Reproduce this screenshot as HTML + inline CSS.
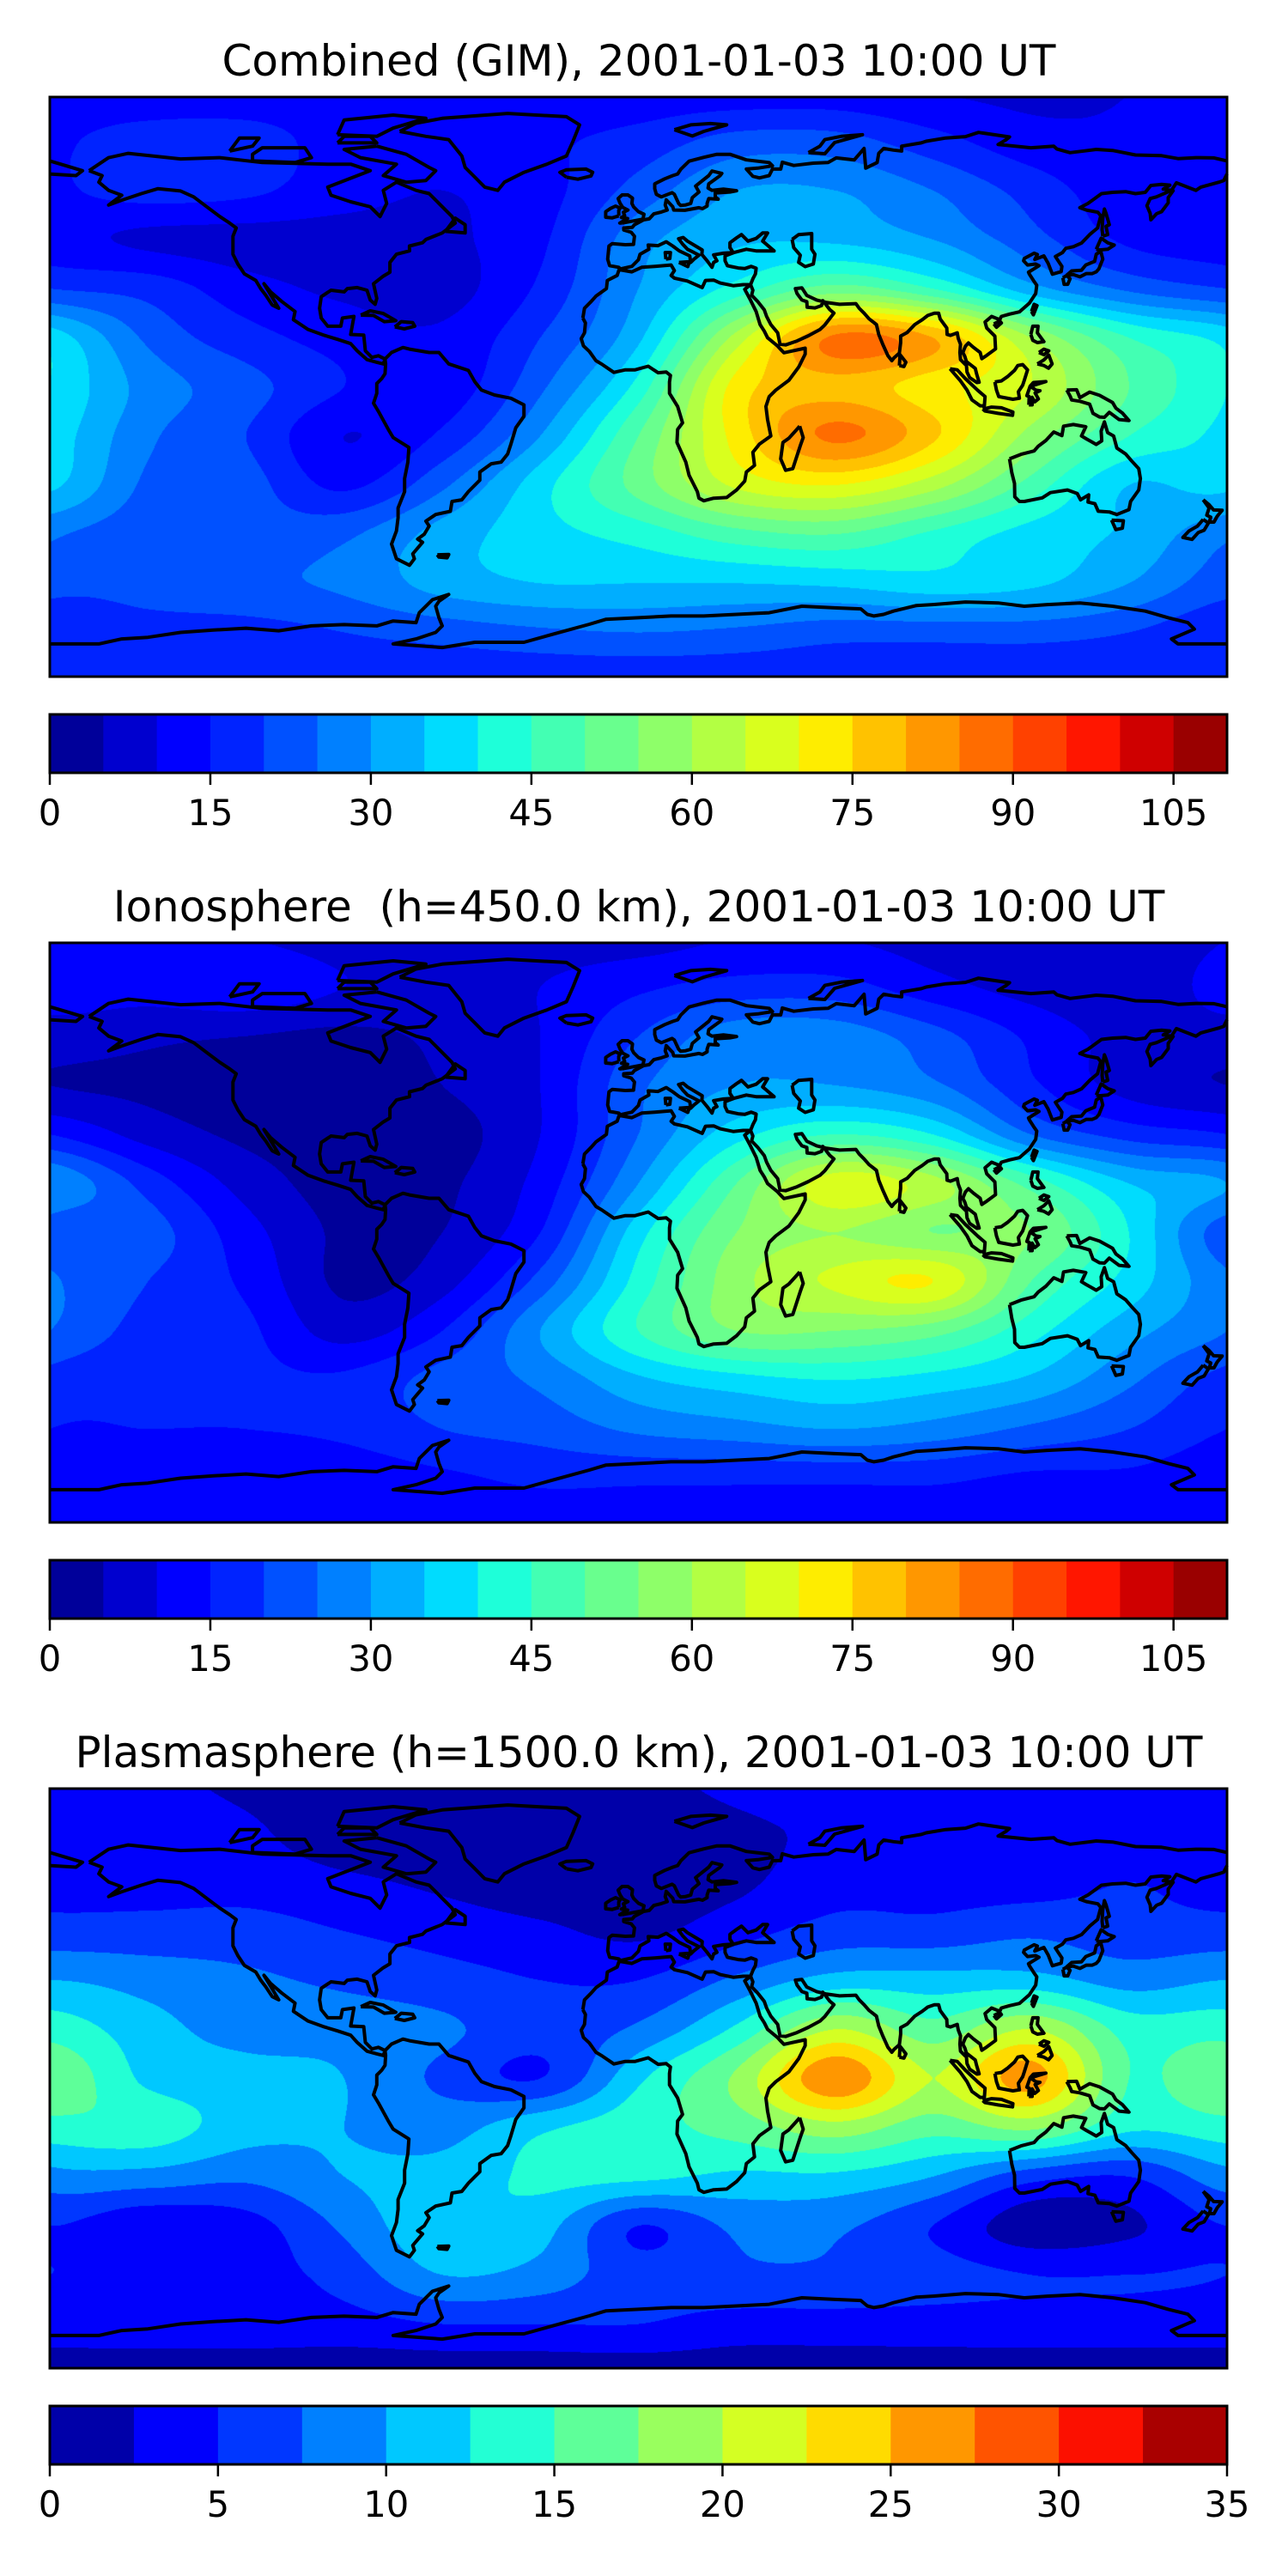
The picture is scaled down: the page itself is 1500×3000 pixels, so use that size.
<!DOCTYPE html>
<html><head><meta charset="utf-8">
<style>
html,body{margin:0;padding:0;background:#fff;}
#wrap{position:relative;width:1500px;height:3000px;overflow:hidden;background:#fff;}
canvas{position:absolute;left:58px;}
svg{position:absolute;left:0;top:0;}
text{font-family:"DejaVu Sans","Liberation Sans",sans-serif;fill:#000;white-space:pre;}
</style></head>
<body>
<div id="wrap">
<canvas id="c1" width="1371" height="675" style="top:113px"></canvas>
<canvas id="c2" width="1371" height="675" style="top:1098px"></canvas>
<canvas id="c3" width="1371" height="675" style="top:2083px"></canvas>
<svg id="ov" width="1500" height="3000" xmlns="http://www.w3.org/2000/svg">
<text x="744" y="88" font-size="50" text-anchor="middle">Combined (GIM), 2001-01-03 10:00 UT</text>
<text x="744" y="1073" font-size="50" text-anchor="middle">Ionosphere  (h=450.0 km), 2001-01-03 10:00 UT</text>
<text x="744" y="2058" font-size="50" text-anchor="middle">Plasmasphere (h=1500.0 km), 2001-01-03 10:00 UT</text>
</svg>
</div>
<script>
// grid: longitudes -180..180 step 30, latitudes 90..-90 step 15
const lonGrid=[-180,-150,-120,-90,-60,-30,0,30,60,90,120,150,180];
const latGrid=[90,75,60,45,30,15,0,-15,-30,-45,-60,-75,-90];
const combinedTec=[
[12,12,12,12,12,12,12,12,12,10,9,10,12],
[14,17,17,13,12,14,17,22,22,17,12,11,14],
[14,17,16,12,10,13,22,30,30,25,18,12,14],
[12,9,8,8,9,14,28,34,34,30,22,14,12],
[20,18,12,9,8,16,30,42,52,45,32,24,20],
[38,24,17,13,11,20,34,62,86,80,60,45,38],
[40,28,22,15,12,24,42,72,78,72,65,50,40],
[38,26,20,10,16,30,50,72,86,76,58,45,38],
[36,24,22,14,24,38,52,66,70,62,48,35,36],
[26,22,22,24,32,38,42,48,50,44,38,34,26],
[22,22,24,26,32,35,35,35,36,38,36,30,22],
[16,18,18,20,22,24,25,24,22,22,22,20,16],
[16,16,16,16,16,16,16,16,16,16,16,16,16]];
const ionoTec=[
[10,10,10,8,8,8,8,10,10,8,6,6,10],
[12,12,14,10,8,10,14,17,17,12,8,6,12],
[8,6,5,4,6,10,20,28,28,22,14,8,8],
[5,4,3,3,5,10,24,30,30,26,16,8,5],
[15,8,4,3,3,10,25,38,45,40,25,18,15],
[30,18,8,3,4,12,30,50,68,62,48,35,30],
[22,22,12,4,5,15,38,55,60,55,55,40,22],
[26,20,14,4,8,22,42,58,66,70,50,38,26],
[25,18,16,8,15,30,45,55,55,52,42,32,25],
[18,16,16,16,22,26,34,38,40,38,34,26,18],
[15,15,15,16,20,22,26,28,30,28,24,20,15],
[12,12,12,12,14,16,16,16,16,16,14,14,12],
[12,12,12,12,12,12,12,12,12,12,12,12,12]];
const plasmaTec=[
[3,3,2,1,1,2,2,3,4,4,4,4,3],
[4,4,3,1,1,1,1,2,3,4,4,4,4],
[4,4,4,3,2,1,1,2,4,4,4,5,4],
[6,6,6,5,4,3,2,4,6,6,7,6,6],
[10,9,8,7,6,5,5,8,11,11,11,9,10],
[14,11,9,9,8,6,8,13,20,16,20,14,14],
[17,12,11,10,7,5,12,18,27,20,26,15,17],
[14,14,11,10,9,12,14,16,19,16,18,13,14],
[9,9,8,10,11,13,13,12,12,10,6,5,9],
[5,3,4,8,12,11,5,8,8,5,1,2,5],
[5,4,4,6,10,9,6,7,7,6,5,5,5],
[4,4,4,4,5,5,5,4,4,4,4,4,4],
[1,1,1,1,1,1,1,1,1,1,1,1,1]];
const levelsTop=[0,110,5];      // min,max,step
const levelsPlasma=[0,35,2.5];
const ticksTop=[0,15,30,45,60,75,90,105];
const ticksPlasma=[0,5,10,15,20,25,30,35];

// coastlines [lon,lat]
const COAST=[
[[-168,66],[-162,70],[-156,71.3],[-140,69.6],[-128,70],[-115,68.5],[-95,68],[-88,68],[-82,66],[-95,61],[-94,58.5],[-88,56.5],[-82,55],[-79,52],[-77,56],[-78,60],[-74,62.5],[-68,60],[-64,59],[-61,56],[-57,52],[-56,50],[-60,47],[-65,45],[-66,44],[-70,43],[-70,41.5],[-74,40.5],[-76,38],[-76,35],[-78,33.8],[-81,31.5],[-80,27],[-80.5,25.2],[-82,26.5],[-83,29.5],[-86,30.3],[-89,30],[-90,29],[-94,29.5],[-97,27.5],[-97.5,24],[-97,21],[-95,18.5],[-91,18.5],[-90.5,21],[-87,21.5],[-88,16],[-84,15.8],[-83.5,11],[-81.5,9],[-79.5,9.5],[-77.5,8.5],[-78,7],[-80,7.5],[-83,8.3],[-86,11],[-88,13.2],[-92,14.5],[-96,15.7],[-101,17.5],[-105.5,20.5],[-105,23],[-109,26],[-112.5,29],[-114.5,31.5],[-113,29],[-110,24],[-112,25],[-114,28],[-115.5,30],[-117,32.5],[-120.5,34.5],[-122.5,37.5],[-124,40.5],[-124,46],[-123,48.5],[-125,50],[-128,52],[-132,55],[-136,58],[-140,59.8],[-147,60.5],[-152,59],[-158,57],[-162,55.5],[-158,58.5],[-162,60],[-165,62.5],[-164,64.5],[-168,66]],
[[-73,78],[-68,80.5],[-60,82],[-40,83.5],[-22,82.5],[-18,80],[-20,75],[-22,70.5],[-28,68],[-35,65.5],[-41,62.5],[-43,60],[-47,61],[-50,64],[-53,67],[-54,70.5],[-58,75.5],[-65,76.5],[-73,78]],
[[-80,73.5],[-71,71],[-64,67],[-62,66],[-65,63],[-71,62.5],[-78,64.5],[-74,68],[-85,70],[-90,72.5],[-80,73.5]],
[[-118,69],[-105,68.5],[-100,70],[-102,73],[-115,73],[-118,71],[-118,69]],
[[-92,77],[-80,76.5],[-75,79],[-65,82],[-75,83],[-90,81.5],[-92,77]],
[[-92,74.5],[-80,74.5],[-82,76.5],[-90,76.5],[-92,74.5]],
[[-125,72],[-118,73.5],[-116,76],[-122,76],[-125,72]],
[[-59,47.5],[-53,47],[-53,49.5],[-56,51.5],[-59,47.5]],
[[-77.5,8.5],[-75.5,10.5],[-72,12],[-70,11.5],[-64,10.5],[-61,10.5],[-58,7],[-52,5],[-50,1.5],[-48,-1],[-44,-2.5],[-39,-3.5],[-35,-5.5],[-35,-9],[-37.5,-12.5],[-39,-17.5],[-40,-20.5],[-42,-23],[-45,-23.5],[-48.5,-26],[-48.5,-28.5],[-52,-32],[-54,-34.5],[-57,-35],[-57.5,-38],[-62,-39],[-65,-41],[-64,-42.5],[-65.5,-45],[-67.5,-46.5],[-66,-47.5],[-69,-51],[-68.5,-52.5],[-70,-54.5],[-74,-52.5],[-75.5,-48],[-74,-44],[-73.5,-40],[-73.5,-37],[-71.5,-32],[-71.5,-28],[-70.5,-23],[-70.2,-18.5],[-75,-15.5],[-76.5,-13],[-79.5,-7.5],[-81,-5],[-80,-2],[-80,1],[-78.5,2.5],[-77.5,4],[-77.3,7],[-77.5,8.5]],
[[-17,21],[-16.5,24],[-14.5,26],[-13,27.7],[-9.8,30],[-9.5,32.5],[-6.5,34],[-5.9,35.8],[-2,35.1],[1,36.5],[5,36.8],[10,37.2],[11,35.5],[10,34],[11,33.2],[15,32.3],[19.5,30.3],[20.5,32.5],[23,32.6],[25,31.7],[29,30.9],[32,31.2],[34.3,31.2],[32.5,29.8],[34,27],[36,23],[37.2,19],[38.5,17],[39.5,15],[42.5,12.5],[43.4,11.5],[44.5,10.4],[51,11.8],[51,10],[49,6],[46,2],[42,-1],[40,-3],[39,-6],[39.5,-10],[40.5,-15],[37,-17.5],[35,-20],[35.5,-24],[33,-26],[32.5,-28.8],[30,-31.5],[27,-33.8],[23,-34],[20,-34.8],[18.5,-34],[18,-32],[15.5,-27],[14.5,-23],[11.8,-17],[12,-13],[13.5,-11],[12,-6],[9.5,-2],[9.5,1.5],[9.8,3.5],[8.5,4.5],[6,4.3],[3,6.3],[-1,5.2],[-4,5.2],[-7.5,4.4],[-11,6.8],[-13,8],[-15,10.8],[-16.8,12.5],[-17.5,14.7],[-16.5,16.5],[-16.2,19.5],[-17,21]],
[[49.3,-12],[50.4,-15.5],[49.5,-18],[47.2,-25],[45,-25.5],[43.5,-22],[44.2,-17],[46,-15.7],[48,-13.5],[49.3,-12]],
[[34.3,31.2],[35,33],[35.8,34.5],[36,36.2],[34.5,36.8],[32.5,36.1],[30.5,36.3],[28.5,36.7],[27.2,37],[26.5,38.5],[26.5,40],[29.5,41.1],[33,42],[36,41.5],[41.5,41.5],[38,44.5],[39.5,47],[38,47],[36,45.3],[33.5,44.5],[31.5,46.5],[30,45.5],[28,44],[28,42.5],[29,41],[26,40.8],[23,40.3],[24,38.5],[23,38],[22.5,36.5],[21,38.5],[19.4,40.4],[19.5,41.8],[17.5,43],[15,44.5],[13.7,45.6],[12.3,45.2],[13.5,43.6],[15,42],[17,41],[18.5,40.2],[17,39],[16,38],[15.7,40],[12.5,41.5],[10.5,43],[8.5,44.3],[6,43.1],[3,43.3],[3.2,42],[0.5,40.5],[0,38.8],[-2,36.8],[-5.5,36],[-6,36.5],[-8.8,37],[-9.4,39],[-9,43],[-8,43.7],[-4,43.4],[-1.5,43.5],[-1.2,46],[-2.2,47.2],[-4.5,47.9],[-4.5,48.5],[-1.9,48.7],[-1.2,49.5],[1.6,51],[3.3,51.3],[4.7,52.8],[7,53.4],[8.8,54],[8.2,55.5],[8.5,57.1],[10.5,55],[10.8,54],[14.2,53.9],[18.5,54.7],[19.6,54.4],[21,55.2],[21,56],[21.5,57.5],[24.4,57.3],[23.5,58],[23.5,59.2],[28,59.5],[30,59.9],[26,60.4],[22.5,60],[21.3,60.7],[21.5,62],[25,64.5],[25.5,65.2],[22.5,65.9],[21.5,64.5],[17.5,61.3],[18.5,59.5],[16.5,57.8],[16,56],[14.3,55.5],[12.9,55.4],[12.3,56],[11,58.8],[10.3,59.3],[7,58],[5.5,58.8],[5,60.5],[5,62],[8,63.5],[10.5,64.5],[12,65],[13,66.5],[15.5,68.9],[20,70.1],[24,71],[28,71],[33,69.3],[40,68.5],[41,67.5],[36.5,66.8],[33,66.5],[35,64.3],[37,63.8],[40,64.5],[41,66.5],[43.5,66.5],[44,68.6],[47.5,67.6],[53.5,68.3],[58,68.5],[60.5,69.9],[66,69.3],[69,72.8],[69.5,66.8],[73,68.5],[73.5,71.3],[75,72.8],[78,72.3],[80.5,72],[80.5,73.5],[86.5,74.5],[88,75],[94,76],[100,76.4],[104,77.7],[113.5,76.3],[112.5,75.5],[110,74],[113,73.7],[120,73],[127,73.5],[128,72.6],[132,71.5],[140,72.5],[145,72.2],[152,70.8],[160,70.6],[165,69.7],[170.5,70],[176,69.9],[180,69]],
[[180,65],[179,63],[177.5,62.5],[172,61],[170.5,60],[164.5,62.3],[163,60],[158.4,58],[156.5,57.5],[155.5,55.3],[156.5,53],[156.7,51],[158.5,52.9],[160,53.5],[162,56.2],[162,57.8],[163.5,59.9],[160.5,60.4],[162.5,61.6],[160,61.8],[156.7,61.5],[155,59.4],[152,59],[149,59.6],[145,59.4],[141.6,59],[137.5,56],[135,54.7],[137,54],[140.5,53.3],[141.4,52.2],[140.4,48.5],[138,46.5],[135.5,43.9],[133,42.8],[130.7,42.3],[129.7,41],[127.5,39.8],[128.3,38.6],[129.5,36.8],[129.3,35.2],[126.6,34.4],[125.3,37.7],[124,40],[121.2,38.9],[122,40.4],[121,40.8],[118,39.2],[117.8,38.5],[119,37.2],[121.5,37.5],[122.5,37],[119.3,35],[119.5,34.5],[120.8,32.5],[121.8,31],[121.5,28.5],[119.5,25.5],[116.5,22.9],[113.5,22.2],[111,21.5],[110.5,20.5],[108,21.5],[106,19.8],[106.5,18],[109,15.5],[109.2,11.6],[106.5,9.6],[105,8.6],[104.5,10.5],[102.5,12],[100.9,13.4],[100,12.4],[99.2,10.5],[99.8,9.3],[100.3,7.7],[101.5,6.8],[103,5.6],[103.4,4],[104.2,1.4],[103.5,1.3],[101.3,2.8],[100.5,4.5],[100.3,6.5],[98.5,8.3],[98.3,10.5],[98.5,13],[97.8,14.8],[97.5,16.5],[95.4,15.7],[94.4,16],[94.3,18],[92.3,20.7],[91.8,22.5],[90.5,22.5],[88.5,21.8],[86.8,20.5],[84.5,19],[82.2,16.6],[80.2,15.5],[80.2,13.5],[79.8,10.3],[78.2,8.9],[77.5,8],[76.3,9.5],[74.8,12.8],[73.5,16],[72.8,19],[70.5,20.8],[69,22.5],[67.5,24],[66.5,25.4],[61.5,25.2],[57.3,25.8],[54.5,26.5],[51.5,27.9],[50,30.2],[48,30],[48.5,28.5],[50,26.5],[51.5,26],[51.6,24.3],[54,24.1],[56,24.8],[56.4,26.3],[58.5,23.6],[59.8,22.5],[57,18.9],[55.5,17.5],[52,15.6],[48.5,14],[45,12.8],[43.3,13],[42.6,16.5],[40.5,19],[39.2,21.5],[38.5,23.5],[36.5,26],[34.6,28],[35,29.5],[34.3,31.2]],
[[-180,65],[-172,64.5],[-170,66],[-175,67.5],[-180,69]],
[[47,45],[49,46.5],[53,46.8],[53,42],[54,40.5],[53.5,37.5],[51,36.7],[49,38],[49.5,40.2],[47.5,42.5],[47,45]],
[[-5,50],[1.4,51.2],[1.7,52.7],[0,53.5],[-1.5,55],[-2,56],[-1.8,57.6],[-3.2,58.6],[-5,58.6],[-6.2,57.5],[-5.6,56],[-4.8,54.8],[-3.2,54],[-4.6,53.3],[-4.2,52.3],[-5.2,51.7],[-3.3,51.4],[-5.7,50],[-5,50]],
[[-6,52.2],[-6,53.9],[-5.6,54.6],[-7,55.2],[-8.5,54.5],[-10,53.5],[-10,51.8],[-8,51.6],[-6,52.2]],
[[-22,64],[-24,65.5],[-22,66.3],[-16,66.5],[-14,65.5],[-14.5,64.4],[-18.5,63.4],[-22,64]],
[[130.9,34],[132.5,35.4],[135.5,35.6],[136.8,37.2],[139.5,38.3],[140,40.5],[141.4,41.4],[142,39],[140.8,36],[140,35.1],[138.8,34.6],[137,34.6],[135,33.6],[133,34.3],[130.9,34]],
[[140,42],[141.5,45.4],[143.5,44],[145.5,43.3],[143.5,42],[141,41.8],[140,42]],
[[129.8,33.3],[131,34],[132,33],[131.3,31.3],[130.2,31.3],[129.8,33.3]],
[[142,46],[143.5,46.5],[143,49],[144,49.5],[143,53],[142.5,54.3],[142,51.5],[141.8,48],[142,46]],
[[120.2,23],[121,25.2],[121.9,24.8],[120.8,22],[120.2,23]],
[[108.7,19.2],[110.5,20.1],[111,19.5],[109.5,18.2],[108.7,19.2]],
[[120,16],[120.6,18.5],[122.2,18.5],[122,16.5],[124,13.8],[122,13.5],[120.6,14.2],[120,16]],
[[122,7],[124,8.2],[125.5,9.7],[126.5,7],[125.4,5.7],[124,6.5],[122,7]],
[[122.5,10.5],[124,11.5],[125.5,11],[124,9.8],[122.5,10.5]],
[[95.3,5.5],[97.5,5.2],[100,2.5],[103.7,-1],[106,-3],[105.8,-5.8],[104.5,-5.8],[102,-4],[100.5,-1],[98.5,1.8],[95.3,5.5]],
[[105.3,-6.8],[108,-6.2],[111,-6.4],[114.5,-7.7],[114.4,-8.7],[110,-8.1],[106,-7.4],[105.3,-6.8]],
[[109,1.5],[109.5,-1],[110.2,-3],[114.5,-3.8],[116.5,-3.5],[116.2,-1.5],[117.5,0.5],[118,2],[119,5.2],[117.5,6.8],[116,6.5],[115,5],[113,3.2],[111,1.8],[109,1.5]],
[[119.4,-5.5],[119.5,-3],[118.8,-2.7],[119.8,0.2],[120.8,1.3],[124.6,1.6],[121,0.5],[120.1,0],[121.5,-1],[122.8,-1.2],[121.3,-1.9],[122.3,-3.7],[121.2,-4.6],[120.4,-3.2],[120.4,-5.5],[119.4,-5.5]],
[[131,-1],[134,-0.9],[135,-3.3],[138,-1.6],[141,-2.6],[145,-4.8],[146,-6.5],[148,-8],[150,-10.3],[147,-10],[144,-7.8],[142.5,-9.3],[141,-9.2],[139,-8.1],[138,-5.3],[135,-4.4],[132.5,-4],[132,-2.8],[131,-1]],
[[113.5,-22],[114.2,-26.3],[115,-29.5],[115.1,-33.6],[116.5,-35],[118,-35],[123.5,-33.9],[126,-32.3],[131.2,-31.5],[134.2,-32.6],[135.2,-34.5],[137.7,-33],[137.5,-35.2],[139.6,-35.7],[140.6,-38],[144,-38.2],[146.3,-39],[150,-37.5],[150.5,-35],[153,-31.5],[153.5,-28],[153,-25],[150.8,-22.6],[149,-20.5],[146.3,-18.7],[145.3,-15],[143.5,-14],[142.5,-10.7],[141.5,-13.5],[141.7,-16.5],[140,-17.6],[137,-15.9],[135.5,-15],[136.8,-12.2],[133,-11.5],[130,-12],[129.5,-14.9],[127,-13.8],[124.6,-16.4],[122.2,-18.2],[121,-19.6],[117,-20.6],[113.5,-22]],
[[144.7,-40.7],[148.3,-40.9],[148,-43.2],[146,-43.6],[144.7,-40.7]],
[[172.7,-34.5],[174.5,-36],[175.9,-37.6],[178.5,-37.7],[177,-39.5],[176,-41.3],[174.6,-41.3],[175,-39.8],[173.8,-39.2],[174.5,-37],[172.7,-34.5]],
[[172.7,-40.5],[174.3,-41.6],[173,-43.8],[171.2,-44.5],[169.3,-46.6],[166.5,-46],[168.4,-44],[171,-42.5],[172.7,-40.5]],
[[79.8,6.5],[80,9.8],[81.8,7.5],[81.2,6.2],[79.8,6.5]],
[[-84.9,21.9],[-82,23.2],[-78,22.4],[-74.2,20.2],[-77.7,19.9],[-81,21.8],[-84.9,21.9]],
[[-74.5,18.3],[-72.5,19.9],[-69,19.6],[-68.4,18.5],[-71.6,17.7],[-74.5,18.3]],
[[52,71.5],[55.5,73.5],[57,75.5],[62,76.5],[68.5,77],[60,74.6],[57,71.2],[52,71.5]],
[[11,78.5],[16,80],[22,80.4],[27,80],[20,78],[16.5,76.6],[11,78.5]],
[[12.4,38],[15.6,38.2],[15.1,36.7],[12.4,38]],
[[8.4,39],[9.6,39.2],[9.8,41],[8.2,41],[8.4,39]],
[[-61.5,-51.3],[-58,-51.2],[-58.5,-52.2],[-61,-52],[-61.5,-51.3]],
[[-180,-78.5],[-165,-78.5],[-158,-77],[-150,-76.5],[-140,-75],[-130,-74.3],[-120,-73.7],[-110,-74.5],[-100,-73],[-90,-72.6],[-80,-73],[-75,-71.5],[-68,-72],[-67,-69],[-63,-65],[-58,-63.4],[-61,-65.5],[-62,-67],[-61,-70.5],[-60,-73],[-62,-75],[-68,-77],[-75,-78.5],[-60,-79.6],[-50,-78],[-40,-78],[-35,-78],[-26,-75.5],[-15,-72.5],[-10,-71],[0,-70.5],[10,-70],[20,-70],[30,-69.5],[40,-69],[50,-67],[60,-67.5],[68,-67.8],[70,-69.5],[72,-70],[75,-69.5],[78,-68.5],[85,-66.8],[90,-66.5],[100,-65.7],[110,-66],[118,-67],[125,-66.5],[135,-66],[145,-67],[155,-68.5],[162,-70.5],[168,-72],[170,-74],[163,-77],[165,-78.5],[180,-78.5]]
];

const MAP_X=58, MAP_W=1371, MAP_H=675, LAT_TOP=88.5, LAT_SPAN=177;
const PANEL_TOPS=[113,1098,2083];
const NS="http://www.w3.org/2000/svg";
const ov=document.getElementById('ov');

function jet(t){
  function cl(v){return Math.max(0,Math.min(1,v));}
  let r,g,b;
  r = t<0.35?0:(t<0.66?(t-0.35)/0.31:(t<0.89?1:1-0.5*(t-0.89)/0.11));
  g = t<0.125?0:(t<0.375?(t-0.125)/0.25:(t<0.64?1:(t<0.91?1-(t-0.64)/0.27:0)));
  b = t<0.11?0.5+0.5*t/0.11:(t<0.34?1:(t<0.65?1-(t-0.34)/0.31:0));
  return [Math.round(cl(r)*255),Math.round(cl(g)*255),Math.round(cl(b)*255)];
}
function cr(p0,p1,p2,p3,t){
  return p1+0.5*t*(p2-p0+t*(2*p0-5*p1+4*p2-p3+t*(3*(p1-p2)+p3-p0)));
}
function fieldAt(grid,lon,lat){
  const fx=(lon-lonGrid[0])/30, fy=(latGrid[0]-lat)/15;
  const i=Math.floor(fx), tx=fx-i, j=Math.floor(fy), ty=fy-j;
  const rows=[];
  for(let dj=-1;dj<=2;dj++){
    const jj=Math.max(0,Math.min(latGrid.length-1,j+dj));
    const row=grid[jj];
    const c=[];
    for(let di=-1;di<=2;di++){let ii=((i+di)%12+12)%12;c.push(row[ii]);}
    rows.push(cr(c[0],c[1],c[2],c[3],tx));
  }
  return cr(rows[0],rows[1],rows[2],rows[3],ty);
}
function drawMap(id,grid,lev){
  const cv=document.getElementById(id), ctx=cv.getContext('2d');
  const img=ctx.createImageData(MAP_W,MAP_H);
  const n=Math.round((lev[1]-lev[0])/lev[2]);
  const pal=[];for(let k=0;k<n;k++)pal.push(jet((k+0.5)/n));
  for(let py=0;py<MAP_H;py++){
    const lat=LAT_TOP-(py+0.5)/MAP_H*LAT_SPAN;
    for(let px=0;px<MAP_W;px++){
      const lon=-180+(px+0.5)/MAP_W*360;
      const v=fieldAt(grid,lon,lat);
      let k=Math.floor((v-lev[0])/lev[2]);k=Math.max(0,Math.min(n-1,k));
      const o=(py*MAP_W+px)*4,c=pal[k];
      img.data[o]=c[0];img.data[o+1]=c[1];img.data[o+2]=c[2];img.data[o+3]=255;
    }
  }
  ctx.putImageData(img,0,0);
}
function xLon(lon){return MAP_X+(lon+180)/360*MAP_W;}
function yLat(lat,top){return top+(LAT_TOP-lat)/LAT_SPAN*MAP_H;}
function drawCoast(top,idx){
  const g=document.createElementNS(NS,'g');
  
  
  COAST.forEach(function(line){
    const p=document.createElementNS(NS,'polyline');
    
    
    p.setAttribute('points',line.map(function(q){return xLon(q[0]).toFixed(1)+','+yLat(q[1],top).toFixed(1);}).join(' '));
    p.setAttribute('fill','none');p.setAttribute('stroke','#000');p.setAttribute('stroke-width','4');
    p.setAttribute('stroke-linejoin','round');
    g.appendChild(p);
  });
  ov.appendChild(g);
  const fr=document.createElementNS(NS,'rect');
  
  
  fr.setAttribute('x',MAP_X);fr.setAttribute('y',top);fr.setAttribute('width',MAP_W);fr.setAttribute('height',MAP_H);
  fr.setAttribute('fill','none');fr.setAttribute('stroke','#000');fr.setAttribute('stroke-width','3');
  ov.appendChild(fr);
}
function drawColorbar(top,lev,ticks,idx){
  const n=Math.round((lev[1]-lev[0])/lev[2]);
  const h=68;
  function xv(v){return MAP_X+(v-lev[0])/(lev[1]-lev[0])*MAP_W;}
  for(let k=0;k<n;k++){
    const c=jet((k+0.5)/n);
    const r=document.createElementNS(NS,'rect');
    
    
    const x0=xv(lev[0]+k*lev[2]), x1=xv(lev[0]+(k+1)*lev[2]);
    r.setAttribute('x',x0.toFixed(2));r.setAttribute('y',top);r.setAttribute('width',(x1-x0+0.6).toFixed(2));r.setAttribute('height',h);
    r.setAttribute('fill','rgb('+c[0]+','+c[1]+','+c[2]+')');
    ov.appendChild(r);
  }
  const fr=document.createElementNS(NS,'rect');
  
  
  fr.setAttribute('x',MAP_X);fr.setAttribute('y',top);fr.setAttribute('width',MAP_W);fr.setAttribute('height',h);
  fr.setAttribute('fill','none');fr.setAttribute('stroke','#000');fr.setAttribute('stroke-width','3');
  ov.appendChild(fr);
  ticks.forEach(function(v){
    const x=xv(v);
    const l=document.createElementNS(NS,'line');
    
    
    l.setAttribute('x1',x);l.setAttribute('x2',x);l.setAttribute('y1',top+h);l.setAttribute('y2',top+h+14);
    l.setAttribute('stroke','#000');l.setAttribute('stroke-width','2.5');
    ov.appendChild(l);
    const t=document.createElementNS(NS,'text');
    
    
    t.setAttribute('x',x);t.setAttribute('y',top+h+61);t.setAttribute('font-size','41.7');t.setAttribute('text-anchor','middle');
    t.textContent=String(v);
    ov.appendChild(t);
  });
}
drawMap('c1',combinedTec,levelsTop);
drawMap('c2',ionoTec,levelsTop);
drawMap('c3',plasmaTec,levelsPlasma);
drawCoast(PANEL_TOPS[0],1);drawCoast(PANEL_TOPS[1],2);drawCoast(PANEL_TOPS[2],3);
drawColorbar(832,levelsTop,ticksTop,1);
drawColorbar(1817,levelsTop,ticksTop,2);
drawColorbar(2802,levelsPlasma,ticksPlasma,3);
</script>
</body></html>
